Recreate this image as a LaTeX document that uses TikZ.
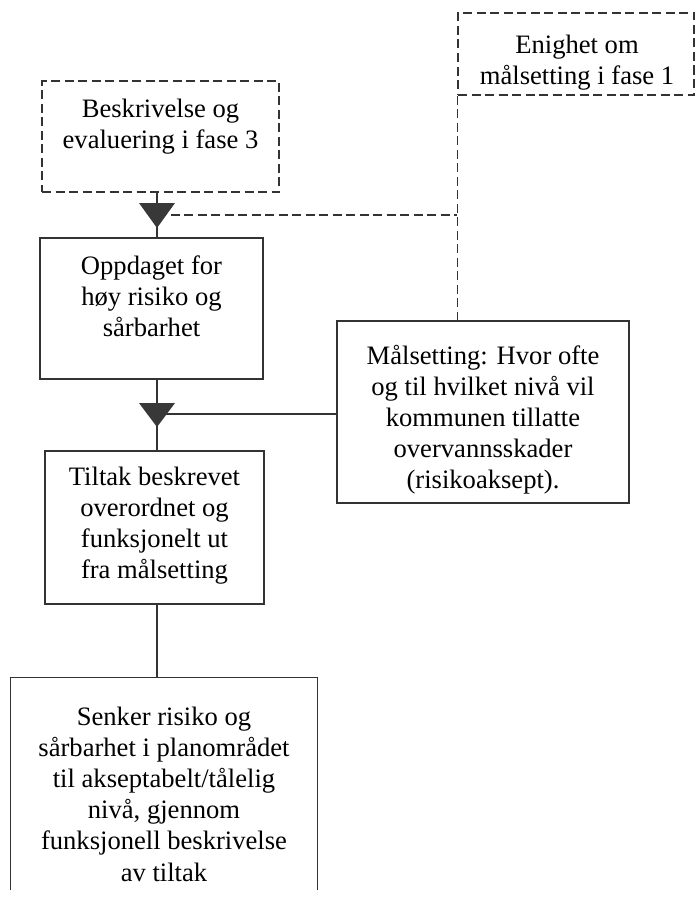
\documentclass[tikz,border=0pt]{standalone}
\usepackage{fontspec}
\setmainfont{Liberation Serif}
\usetikzlibrary{calc}

\tikzset{
  every picture/.style={x=1pt,y=-1pt},
  frame/.style={draw=black!80,line width=1.1pt,inner sep=0pt,anchor=center},
  dashframe/.style={frame,dash pattern=on 9pt off 4.5pt},
  label text/.style={font=\fontsize{26.6}{31.2}\selectfont,align=center,inner sep=0pt,anchor=north,text=black},
  link/.style={draw=black!80,line width=1.1pt},
  dashlink/.style={link,dash pattern=on 9pt off 4.5pt},
  merge/.style={fill=black!78,draw=none}
}

\begin{document}
\begin{tikzpicture}
\useasboundingbox (0,0) rectangle (699,899);

% boxes
\node[dashframe,minimum width=236pt,minimum height=82pt] (enig) at (576,54) {};
\node[dashframe,minimum width=237pt,minimum height=111pt] (besk) at (160.5,136.5) {};
\node[frame,minimum width=223pt,minimum height=141pt] (opp) at (151.5,308.5) {};
\node[frame,minimum width=292pt,minimum height=182pt] (mal) at (483,412) {};
\node[frame,minimum width=219pt,minimum height=153pt] (tilt) at (154.5,527.5) {};
\node[inner sep=0pt,minimum width=306pt,minimum height=212pt] (senk) at (164,784) {};
\draw[link] (senk.south west) -- (senk.north west) -- (senk.north east) -- (senk.south east);

% texts
\node[label text] (enigtxt) at (577,31) {\strut Enighet om\\målsetting i fase 1};
\node[label text] (besktxt) at (160.5,95) {\strut Beskrivelse og\\evaluering i fase 3};
\node[label text] (opptxt) at (151.5,252) {\strut Oppdaget for\\høy risiko og\\sårbarhet};
\node[label text] (maltxt) at (483,342) {\strut Målsetting: Hvor ofte\\og til hvilket nivå vil\\kommunen tillatte\\overvannsskader\\(risikoaksept).};
\node[label text] (tilttxt) at (154.5,463) {\strut Tiltak beskrevet\\overordnet og\\funksjonelt ut\\fra målsetting};
\node[label text] (senktxt) at (164,703) {\strut Senker risiko og\\sårbarhet i planområdet\\til akseptabelt/tålelig\\nivå, gjennom\\funksjonell beskrivelse\\av tiltak};

% merge points
\coordinate (m1) at (157,215);
\coordinate (m2) at (157,414);

% connectors
\draw[link] (m1 |- besk.south) -- (m1 |- opp.north);
\draw[dashlink] (m1) -- (m1 -| enig.west);
\draw[dashlink] (enig.south west) -- (enig.west |- mal.north);
\draw[link] (m2 |- opp.south) -- (m2 |- tilt.north);
\draw[link] (m2) -- (m2 -| mal.west);
\draw[link] (m2 |- tilt.south) -- (m2 |- senk.north);

% merge triangles
\fill[merge] ($(m1)+(-18,-12)$) -- ($(m1)+(18,-12)$) -- ($(m1)+(0,13)$) -- cycle;
\fill[merge] ($(m2)+(-18,-11)$) -- ($(m2)+(18,-11)$) -- ($(m2)+(0,13)$) -- cycle;
\end{tikzpicture}
\end{document}
